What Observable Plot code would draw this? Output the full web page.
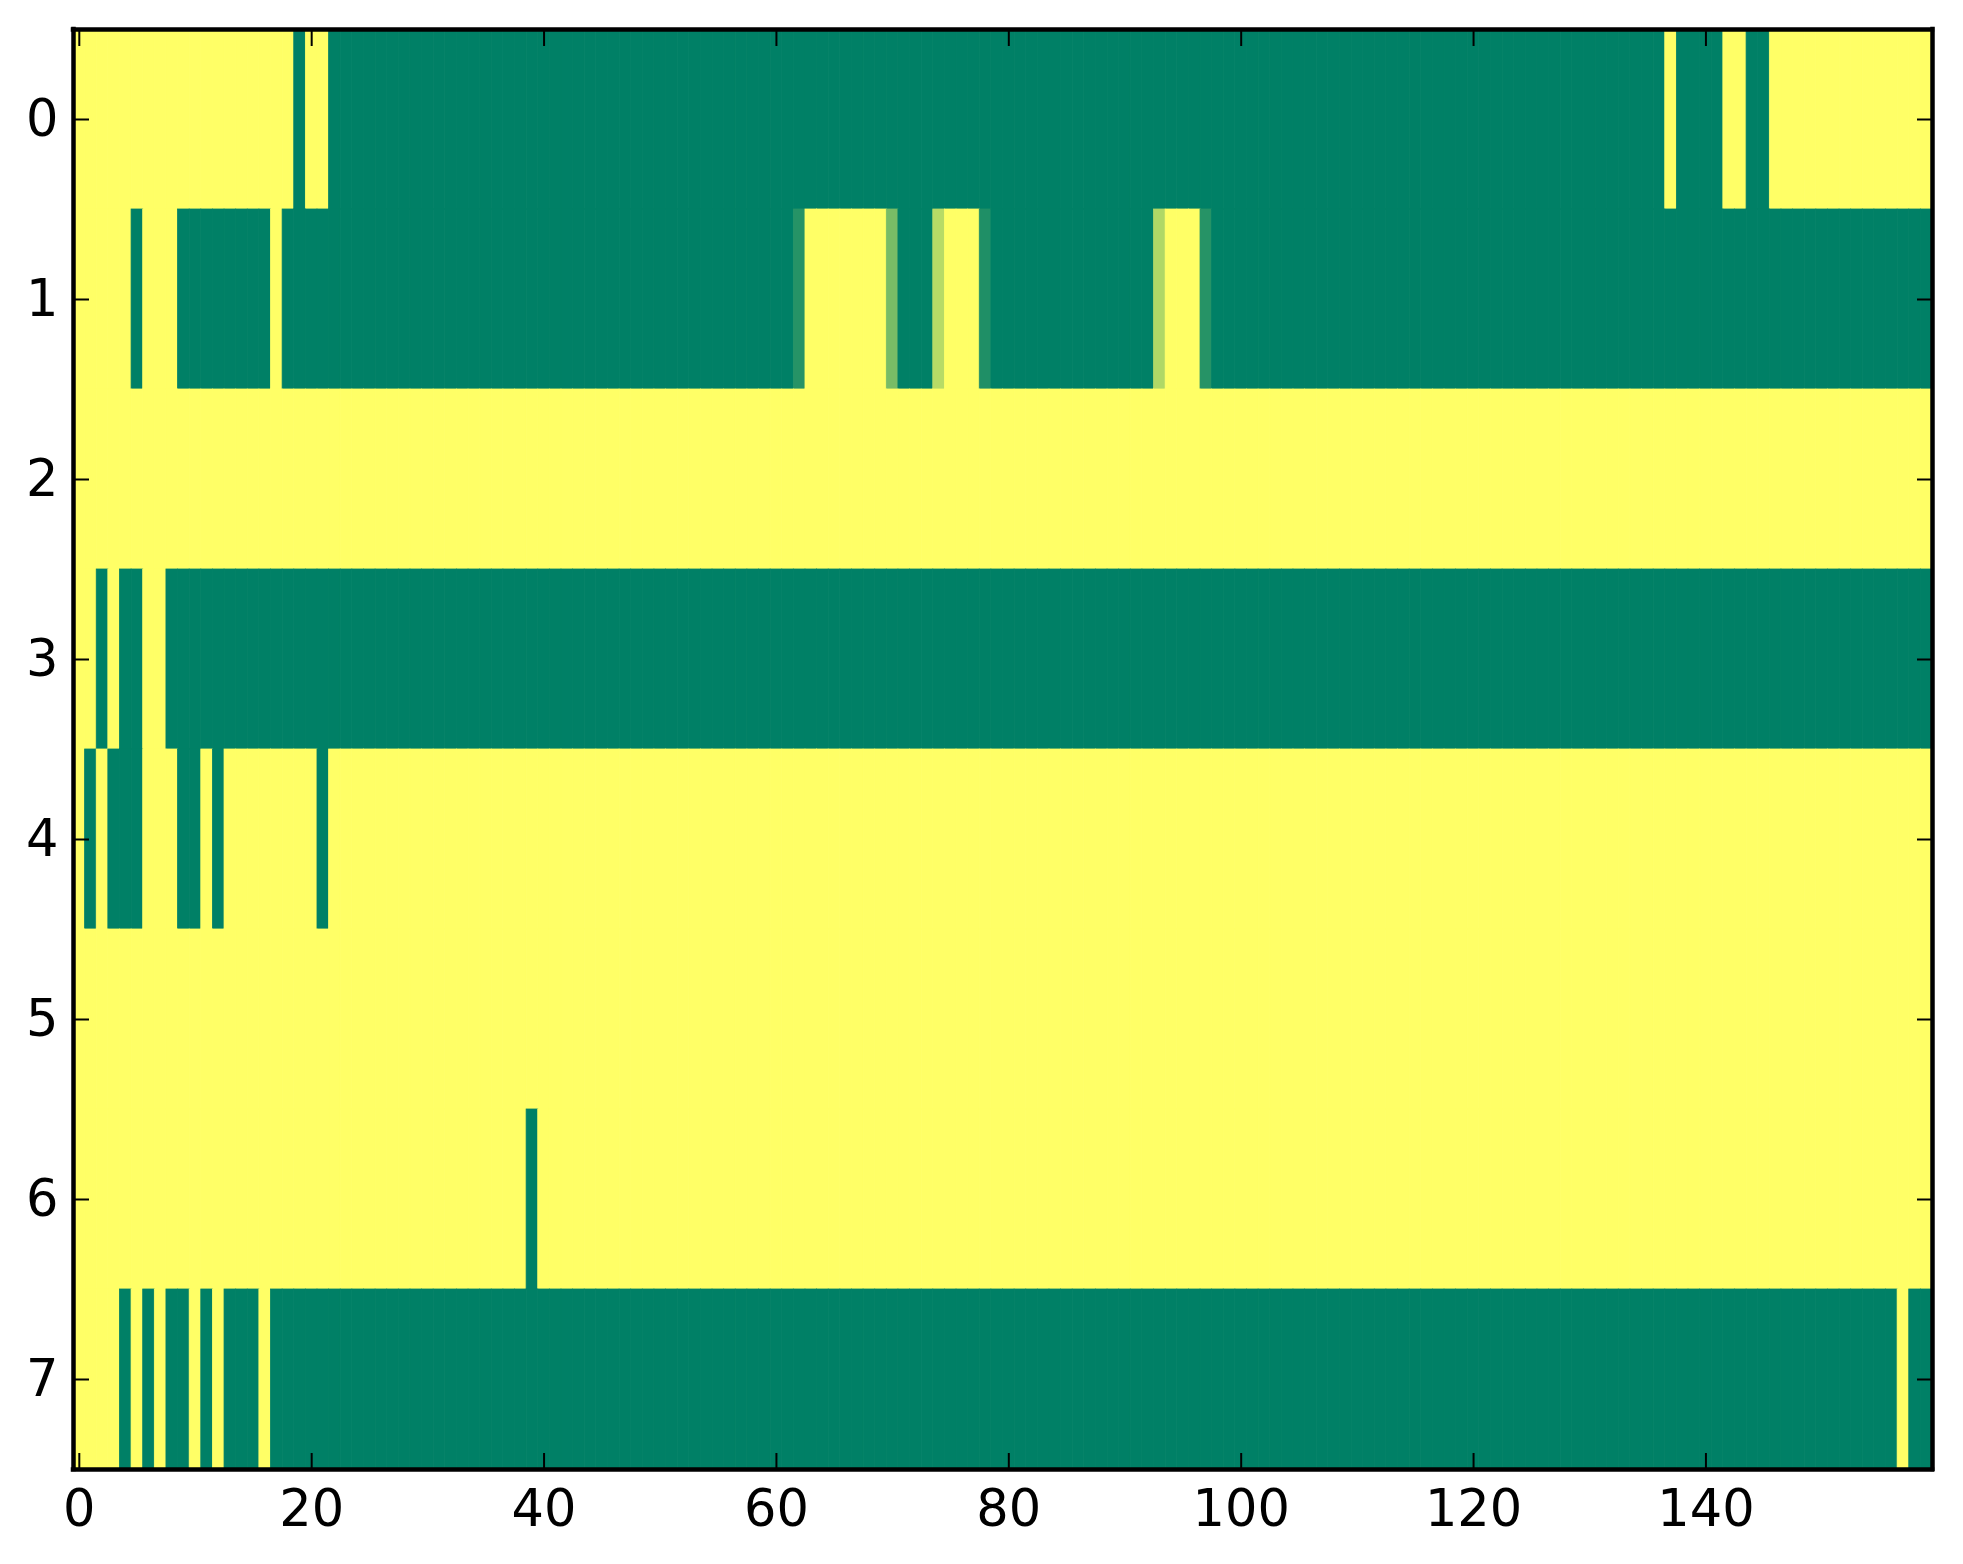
<!DOCTYPE html>
<html>
<head>
<meta charset="utf-8">
<script src="https://cdn.jsdelivr.net/npm/d3@7"></script>
<script src="https://cdn.jsdelivr.net/npm/@observablehq/plot@0.6"></script>
<style>
  html, body { margin: 0; padding: 0; background: white; overflow: hidden; }
</style>
</head>
<body>
<div id="chart"></div>
<script>
// one array per image row, 160 columns each (1 = yellow end of the colormap, 0 = green end)
const row0 = [
  1,1,1,1,1,1,1,1,1,1,1,1,1,1,1,1,1,1,1,0,
  1,1,0,0,0,0,0,0,0,0,0,0,0,0,0,0,0,0,0,0,
  0,0,0,0,0,0,0,0,0,0,0,0,0,0,0,0,0,0,0,0,
  0,0,0,0,0,0,0,0,0,0,0,0,0,0,0,0,0,0,0,0,
  0,0,0,0,0,0,0,0,0,0,0,0,0,0,0,0,0,0,0,0,
  0,0,0,0,0,0,0,0,0,0,0,0,0,0,0,0,0,0,0,0,
  0,0,0,0,0,0,0,0,0,0,0,0,0,0,0,0,0,1,0,0,
  0,0,1,1,0,0,1,1,1,1,1,1,1,1,1,1,1,1,1,1
];
const row1 = [
  1,1,1,1,1,0,1,1,1,0,0,0,0,0,0,0,0,1,0,0,
  0,0,0,0,0,0,0,0,0,0,0,0,0,0,0,0,0,0,0,0,
  0,0,0,0,0,0,0,0,0,0,0,0,0,0,0,0,0,0,0,0,
  0,0,0.15,1,1,1,1,1,1,1,0.47,0,0,0,0.72,1,1,1,0.12,0,
  0,0,0,0,0,0,0,0,0,0,0,0,0,0.69,1,1,1,0.15,0,0,
  0,0,0,0,0,0,0,0,0,0,0,0,0,0,0,0,0,0,0,0,
  0,0,0,0,0,0,0,0,0,0,0,0,0,0,0,0,0,0,0,0,
  0,0,0,0,0,0,0,0,0,0,0,0,0,0,0,0,0,0,0,0
];
const row2 = [
  1,1,1,1,1,1,1,1,1,1,1,1,1,1,1,1,1,1,1,1,
  1,1,1,1,1,1,1,1,1,1,1,1,1,1,1,1,1,1,1,1,
  1,1,1,1,1,1,1,1,1,1,1,1,1,1,1,1,1,1,1,1,
  1,1,1,1,1,1,1,1,1,1,1,1,1,1,1,1,1,1,1,1,
  1,1,1,1,1,1,1,1,1,1,1,1,1,1,1,1,1,1,1,1,
  1,1,1,1,1,1,1,1,1,1,1,1,1,1,1,1,1,1,1,1,
  1,1,1,1,1,1,1,1,1,1,1,1,1,1,1,1,1,1,1,1,
  1,1,1,1,1,1,1,1,1,1,1,1,1,1,1,1,1,1,1,1
];
const row3 = [
  1,1,0,1,0,0,1,1,0,0,0,0,0,0,0,0,0,0,0,0,
  0,0,0,0,0,0,0,0,0,0,0,0,0,0,0,0,0,0,0,0,
  0,0,0,0,0,0,0,0,0,0,0,0,0,0,0,0,0,0,0,0,
  0,0,0,0,0,0,0,0,0,0,0,0,0,0,0,0,0,0,0,0,
  0,0,0,0,0,0,0,0,0,0,0,0,0,0,0,0,0,0,0,0,
  0,0,0,0,0,0,0,0,0,0,0,0,0,0,0,0,0,0,0,0,
  0,0,0,0,0,0,0,0,0,0,0,0,0,0,0,0,0,0,0,0,
  0,0,0,0,0,0,0,0,0,0,0,0,0,0,0,0,0,0,0,0
];
const row4 = [
  1,0,1,0,0,0,1,1,1,0,0,1,0,1,1,1,1,1,1,1,
  1,0,1,1,1,1,1,1,1,1,1,1,1,1,1,1,1,1,1,1,
  1,1,1,1,1,1,1,1,1,1,1,1,1,1,1,1,1,1,1,1,
  1,1,1,1,1,1,1,1,1,1,1,1,1,1,1,1,1,1,1,1,
  1,1,1,1,1,1,1,1,1,1,1,1,1,1,1,1,1,1,1,1,
  1,1,1,1,1,1,1,1,1,1,1,1,1,1,1,1,1,1,1,1,
  1,1,1,1,1,1,1,1,1,1,1,1,1,1,1,1,1,1,1,1,
  1,1,1,1,1,1,1,1,1,1,1,1,1,1,1,1,1,1,1,1
];
const row5 = [
  1,1,1,1,1,1,1,1,1,1,1,1,1,1,1,1,1,1,1,1,
  1,1,1,1,1,1,1,1,1,1,1,1,1,1,1,1,1,1,1,1,
  1,1,1,1,1,1,1,1,1,1,1,1,1,1,1,1,1,1,1,1,
  1,1,1,1,1,1,1,1,1,1,1,1,1,1,1,1,1,1,1,1,
  1,1,1,1,1,1,1,1,1,1,1,1,1,1,1,1,1,1,1,1,
  1,1,1,1,1,1,1,1,1,1,1,1,1,1,1,1,1,1,1,1,
  1,1,1,1,1,1,1,1,1,1,1,1,1,1,1,1,1,1,1,1,
  1,1,1,1,1,1,1,1,1,1,1,1,1,1,1,1,1,1,1,1
];
const row6 = [
  1,1,1,1,1,1,1,1,1,1,1,1,1,1,1,1,1,1,1,1,
  1,1,1,1,1,1,1,1,1,1,1,1,1,1,1,1,1,1,1,0,
  1,1,1,1,1,1,1,1,1,1,1,1,1,1,1,1,1,1,1,1,
  1,1,1,1,1,1,1,1,1,1,1,1,1,1,1,1,1,1,1,1,
  1,1,1,1,1,1,1,1,1,1,1,1,1,1,1,1,1,1,1,1,
  1,1,1,1,1,1,1,1,1,1,1,1,1,1,1,1,1,1,1,1,
  1,1,1,1,1,1,1,1,1,1,1,1,1,1,1,1,1,1,1,1,
  1,1,1,1,1,1,1,1,1,1,1,1,1,1,1,1,1,1,1,1
];
const row7 = [
  1,1,1,1,0,1,0,1,0,0,1,0,1,0,0,0,1,0,0,0,
  0,0,0,0,0,0,0,0,0,0,0,0,0,0,0,0,0,0,0,0,
  0,0,0,0,0,0,0,0,0,0,0,0,0,0,0,0,0,0,0,0,
  0,0,0,0,0,0,0,0,0,0,0,0,0,0,0,0,0,0,0,0,
  0,0,0,0,0,0,0,0,0,0,0,0,0,0,0,0,0,0,0,0,
  0,0,0,0,0,0,0,0,0,0,0,0,0,0,0,0,0,0,0,0,
  0,0,0,0,0,0,0,0,0,0,0,0,0,0,0,0,0,0,0,0,
  0,0,0,0,0,0,0,0,0,0,0,0,0,0,0,0,0,1,0,0
];

const rows = [row0, row1, row2, row3, row4, row5, row6, row7];
const xTicks = [0, 20, 40, 60, 80, 100, 120, 140];
const yTicks = [0, 1, 2, 3, 4, 5, 6, 7];
const xEdges = [-0.5, 159.5];
const yEdges = [-0.5, 7.5];

// flatten into cells
const cells = rows.flatMap((r, i) => r.map((v, j) => ({row: i, col: j, value: v})));

const font = "DejaVu Sans";
const tick = 16;

const chart = Plot.plot({
  width: 1963,
  height: 1564,
  marginLeft: 73,
  marginRight: 31,
  marginTop: 29,
  marginBottom: 95,
  style: {fontFamily: font, color: "black", background: "white"},
  x: {domain: xEdges, axis: null},
  y: {domain: yEdges, reverse: true, axis: null},
  color: {type: "linear", domain: [0, 1], range: ["#008066", "#ffff66"], interpolate: "rgb"},
  marks: [
    Plot.rect(cells, {
      x1: d => d.col - 0.5,
      x2: d => d.col + 0.5,
      y1: d => d.row - 0.5,
      y2: d => d.row + 0.5,
      fill: "value",
      stroke: "value",
      strokeWidth: 0.8
    }),
    Plot.axisX(xTicks, {anchor: "bottom", tickSize: -tick, tickPadding: tick + 20, tickFormat: d3.format("d"), fontSize: 51, fontFamily: font, strokeWidth: 2, label: null}),
    Plot.axisX(xTicks, {anchor: "top", tickSize: -tick, tickFormat: () => "", strokeWidth: 2, label: null}),
    Plot.axisY(yTicks, {anchor: "left", tickSize: -tick, tickPadding: tick + 15, tickFormat: d3.format("d"), fontSize: 51, fontFamily: font, strokeWidth: 2, label: null}),
    Plot.axisY(yTicks, {anchor: "right", tickSize: -tick, tickFormat: () => "", strokeWidth: 2, label: null}),
    // spines
    Plot.ruleX(xEdges, {stroke: "black", strokeWidth: 4.5, strokeLinecap: "square"}),
    Plot.ruleY(yEdges, {stroke: "black", strokeWidth: 4.5, strokeLinecap: "square"})
  ]
});

d3.select('#chart').append(() => chart);
</script>
</body>
</html>
